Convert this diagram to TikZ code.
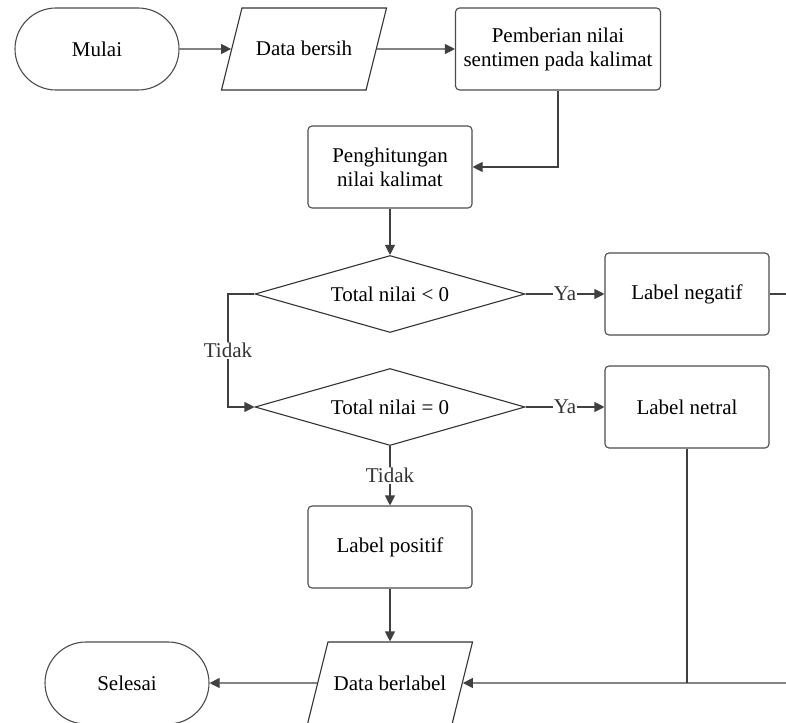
\documentclass[tikz,border=0pt]{standalone}
\usepackage{fontspec}
\setmainfont{Liberation Serif}
\usetikzlibrary{shapes.geometric,arrows.meta}

\tikzset{
	terminal/.style={draw=black!70, line width=1.1pt, rounded corners=41pt, minimum width=164pt, minimum height=82pt},
	process/.style={draw=black!70, line width=1.1pt, rounded corners=4pt, minimum width=164pt, minimum height=82pt, align=center},
	io/.style={draw=black!80, line width=1.1pt, trapezium, trapezium left angle=76, trapezium right angle=104, trapezium stretches body=true, text height=17pt, text depth=3pt, inner ysep=31pt, minimum width=165pt},
	decision/.style={draw=black!80, line width=1.1pt, diamond, aspect=3.5, inner sep=0pt, minimum width=270pt, minimum height=77pt},
	flow/.style={draw=black!75, line width=1.1pt, -{Triangle[length=10pt,width=10pt]}},
	link/.style={draw=black!75, line width=1.1pt},
	answer/.style={fill=white, inner sep=1pt, text=black!80},
}

\begin{document}
\begin{tikzpicture}[x=1pt,y=-1pt,font=\fontsize{21}{24}\selectfont]
			\clip (0,0) rectangle (786,722);
			\node[terminal] (mulai)    at (97, 49)  {Mulai};
			\node[io]       (bersih)   at (304,49)  {Data bersih};
			\node[process, minimum width=205pt] (beri) at (558,49) {Pemberian nilai\\sentimen pada kalimat};
			\node[process]  (hitung)   at (390,167) {Penghitungan\\nilai kalimat};
			\node[decision] (neg)      at (390,294) {Total nilai < 0};
			\node[decision] (nol)      at (390,407) {Total nilai = 0};
			\node[process]  (lneg)     at (687,294) {Label negatif};
			\node[process]  (lnet)     at (687,407) {Label netral};
			\node[process]  (lpos)     at (390,547) {Label positif};
			\node[io]       (berlabel) at (390,683) {Data berlabel};
			\node[terminal] (selesai)  at (127,683) {Selesai};
			%
			\coordinate (kiri1)  at (228,294);
			\coordinate (kiri2)  at (228,407);
			\coordinate (kanan1) at (786,294);
			\coordinate (kanan2) at (786,683);
			%
			\def\list {mulai/bersih, bersih/beri, hitung/neg, lpos/berlabel, berlabel/selesai}  % straight arrows
			\foreach \u\v in \list
			{	\draw[flow] (\u) -- (\v);
			}
			\foreach \u\v in {neg/lneg, nol/lnet}
			{	\draw[flow] (\u) -- node[answer] {Ya} (\v);
			}
			\draw[flow] (nol) -- node[answer] {Tidak} (lpos);
			\draw[flow] (neg.west) -- (kiri1) -- node[answer] {Tidak} (kiri2) -- (nol.west);
			\draw[flow] (beri.south) |- (hitung.east);
			\draw[link] (lneg.east) -- (kanan1);
			\draw[link] (lnet.south) -- (lnet.south |- berlabel.east);
			\draw[flow] (kanan2) -- (berlabel.east);
			%
		\end{tikzpicture}
\end{document}
